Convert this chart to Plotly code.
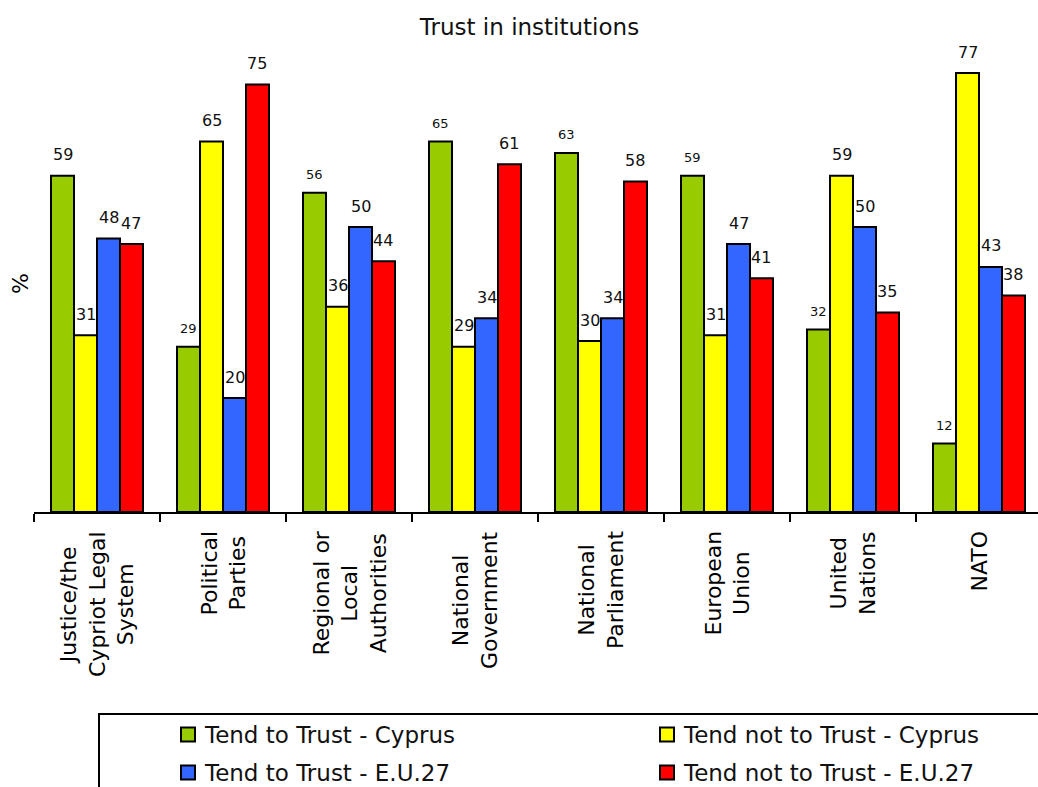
import plotly.graph_objects as go

categories = ["Justice/the<br>Cypriot Legal<br>System", "Political<br>Parties",
              "Regional or<br>Local<br>Authorities", "National<br>Government",
              "National<br>Parliament", "European<br>Union", "United<br>Nations", "NATO"]
series_names = ["Tend to Trust - Cyprus", "Tend not to Trust - Cyprus",
                "Tend to Trust - E.U.27", "Tend not to Trust - E.U.27"]
trust_cy = [59, 29, 56, 65, 63, 59, 32, 12]
distrust_cy = [31, 65, 36, 29, 30, 31, 59, 77]
trust_eu = [48, 20, 50, 34, 34, 47, 50, 43]
distrust_eu = [47, 75, 44, 61, 58, 41, 35, 38]
# label font size flag (small labels on the green series, as in the source)
small_label = [[False, True, True, True, True, True, True, True],
               [False] * 8, [False] * 8, [False] * 8]

series = [trust_cy, distrust_cy, trust_eu, distrust_eu]
colors = ["#99CC00", "#FFFF00", "#3366FF", "#FF0000"]

FONT = "DejaVu Sans"
W, H = 1038, 787
ML, MR, MT, MB = 34, 0, 56, 275
plot_w = W - ML - MR
plot_h = H - MT - MB
base_y = H - MB          # pixel row of the x axis


def py(pix):
    """pixel row -> paper y"""
    return (base_y - pix) / plot_h


def px(pix):
    """pixel column -> paper x"""
    return (pix - ML) / plot_w


cat_px = 126.0
x_range = [-0.5, -0.5 + plot_w / cat_px]
y_range = [0, 80]
bargap = 0.27
bar_w = (1 - bargap) / 4

idx = list(range(len(categories)))
boundaries = [i - 0.5 for i in range(len(categories) + 1)]

fig = go.Figure()
for name, vals, col in zip(series_names, series, colors):
    fig.add_trace(go.Bar(
        x=idx, y=vals, name=name, showlegend=False,
        marker=dict(color=col, line=dict(color="black", width=2)),
    ))

annotations = []
shapes = []
for j, vals in enumerate(series):
    off = (j - 1.5) * bar_w
    for i, v in enumerate(vals):
        small = small_label[j][i]
        annotations.append(dict(
            x=i + off, y=v, xref="x", yref="y", text=str(v), showarrow=False,
            yanchor="middle", yshift=18 if small else 21,
            font=dict(family=FONT, size=13 if small else 16, color="#111111"),
        ))

# category labels (rotated, centered lines)
for i, c in enumerate(categories):
    annotations.append(dict(
        x=i, y=py(529), xref="x", yref="paper", text=c,
        showarrow=False, textangle=-90, align="center",
        xanchor="center", yanchor="top",
        font=dict(family=FONT, size=22, color="black"),
    ))

# y-axis title
annotations.append(dict(
    x=px(20), y=0.5, xref="paper", yref="paper", text="%",
    showarrow=False, textangle=-90, xanchor="center", yanchor="middle",
    font=dict(family=FONT, size=22, color="black"),
))

# legend box (runs off the right and bottom edges, as in the source)
shapes.append(dict(type="rect", xref="paper", yref="paper",
                   x0=px(99), x1=1.05, y0=py(830), y1=py(714),
                   line=dict(color="black", width=2), fillcolor="rgba(0,0,0,0)"))

# legend entries: 2 columns x 2 rows
leg_cols = [180, 659]
leg_rows = [734.5, 772.5]
for k, (name, col) in enumerate(zip(series_names, colors)):
    cx = leg_cols[k % 2]
    cy = leg_rows[k // 2]
    shapes.append(dict(type="rect", xref="paper", yref="paper",
                       x0=px(cx + 1), x1=px(cx + 15), y0=py(cy + 7), y1=py(cy - 7),
                       line=dict(color="black", width=2), fillcolor=col))
    annotations.append(dict(
        x=px(cx + 22), y=py(cy), xref="paper", yref="paper", text=name,
        showarrow=False, xanchor="left", yanchor="middle",
        font=dict(family=FONT, size=23, color="#111111"),
    ))

fig.update_layout(
    width=W, height=H,
    margin=dict(l=ML, r=MR, t=MT, b=MB, autoexpand=False),
    paper_bgcolor="white", plot_bgcolor="white",
    barmode="group", bargap=bargap, bargroupgap=0,
    title=dict(text="Trust in institutions", x=529.5 / W, xanchor="center",
               y=1 - 27 / H, yanchor="middle",
               font=dict(family=FONT, size=23, color="#111111")),
    xaxis=dict(range=x_range, tickmode="array", tickvals=boundaries,
               showticklabels=False, showgrid=False, zeroline=False,
               showline=True, linecolor="black", linewidth=2,
               ticks="outside", ticklen=8, tickwidth=2, tickcolor="black"),
    yaxis=dict(range=y_range, showticklabels=False, showgrid=False,
               zeroline=False, showline=False, ticks=""),
    showlegend=False,
    annotations=annotations,
    shapes=shapes,
    font=dict(family=FONT),
)

fig.write_html("out.html", config={"displayModeBar": False},
               post_script="document.body.style.margin='0';document.body.style.overflow='hidden';")
